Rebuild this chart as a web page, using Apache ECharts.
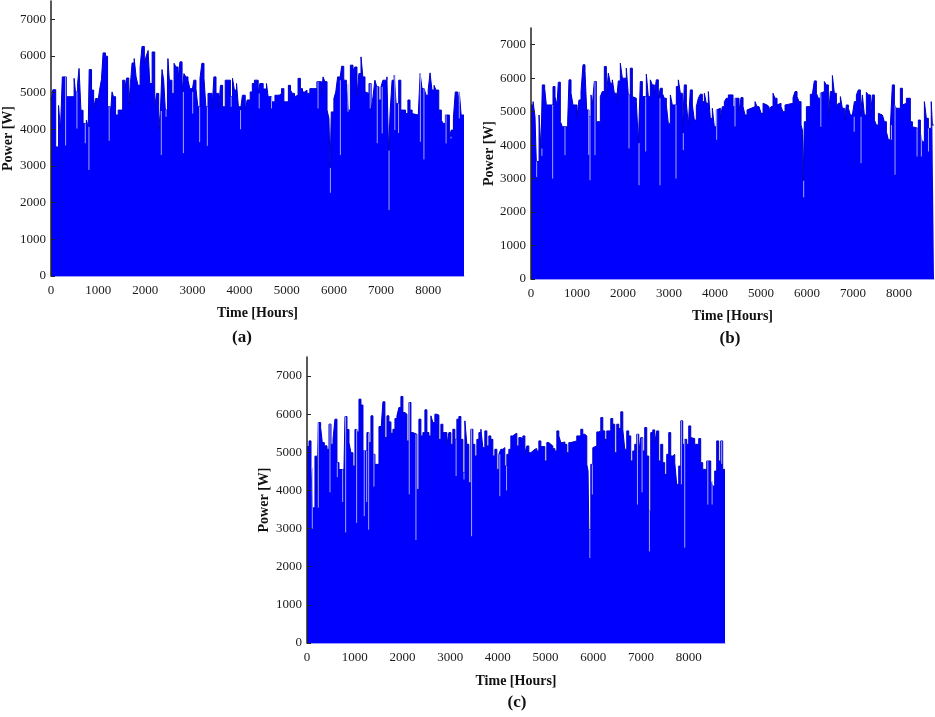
<!DOCTYPE html>
<html><head><meta charset="utf-8">
<script src="https://cdn.jsdelivr.net/npm/echarts@6/dist/echarts.min.js"></script>
<style>html,body{margin:0;padding:0;background:#fff}#c{width:935px;height:717px}</style>
</head><body><div id="c"></div>
<script>
// Tick labels
const yTicks = [0, 1000, 2000, 3000, 4000, 5000, 6000, 7000];
const xTicks = [0, 1000, 2000, 3000, 4000, 5000, 6000, 7000, 8000];
const hoursTotal = 8760;
const panelLabels = ['(a)', '(b)', '(c)'];

// Panel (a): [start hour, power W] step levels
const powerA = [[0,4800],[40,5080],[100,3520],[160,4650],[200,3980],[240,5430],[325,4890],[490,5390],[520,5020],[565,5250],[595,5660],[635,4520],[680,4160],[750,4250],[790,4070],[810,5630],[860,5070],[905,4570],[945,4840],[995,4750],[1030,5070],[1070,5360],[1105,6085],[1155,5995],[1200,4615],[1255,4300],[1295,5020],[1325,4890],[1370,4390],[1425,4525],[1520,5340],[1565,5110],[1605,5400],[1650,4660],[1685,5250],[1720,5810],[1765,5930],[1805,5430],[1845,5200],[1890,5700],[1930,6260],[1980,5800],[2020,6000],[2060,6150],[2095,5250],[2145,6110],[2200,4615],[2240,4980],[2285,4000],[2320,4500],[2355,5630],[2390,5340],[2425,4525],[2470,5340],[2480,5930],[2510,5340],[2565,4980],[2610,5800],[2650,5700],[2695,5340],[2735,5840],[2780,5020],[2820,5520],[2860,5430],[2905,5340],[2945,5110],[2990,5020],[3030,5340],[3075,5110],[3115,4615],[3160,5390],[3200,5800],[3245,5390],[3285,4615],[3330,4980],[3415,4525],[3455,5430],[3500,4980],[3555,4570],[3595,5200],[3640,4615],[3695,5340],[3805,4890],[3850,5390],[3890,5070],[3935,5250],[3975,4615],[4020,4525],[4060,4930],[4120,4525],[4160,4800],[4225,5020],[4270,5250],[4315,5340],[4395,4980],[4430,5250],[4500,5100],[4570,5250],[4605,4890],[4680,4750],[4750,4930],[4840,4980],[4890,5110],[4940,4750],[5035,5200],[5080,5070],[5120,4980],[5165,4890],[5205,4930],[5240,5390],[5290,5110],[5335,5020],[5380,5070],[5430,4980],[5490,5110],[5640,5300],[5740,4930],[5770,5430],[5810,5300],[5855,4525],[5895,4300],[5920,2950],[5945,4475],[6000,4840],[6040,5020],[6080,5430],[6125,5340],[6165,5720],[6210,5340],[6265,5250],[6305,4525],[6350,5750],[6405,5610],[6445,5700],[6490,4890],[6530,5520],[6575,5975],[6615,5430],[6660,5020],[6700,4980],[6745,5250],[6790,4525],[6830,4890],[6870,5340],[6910,5160],[6955,4800],[7000,5160],[7040,5340],[7125,5430],[7160,3420],[7195,4525],[7235,5340],[7280,5475],[7320,4700],[7375,5340],[7420,4525],[7520,4430],[7570,4800],[7615,4525],[7660,4430],[7700,4390],[7790,4430],[7830,5520],[7870,5110],[7915,5070],[7955,4930],[8000,5070],[8040,5540],[8080,5070],[8125,5200],[8165,5070],[8225,4525],[8280,4250],[8320,4160],[8365,4390],[8450,3800],[8490,3980],[8535,4300],[8575,5020],[8620,4660],[8660,5020],[8700,4390]];
// Panel (a): single-hour dips [hour, power W]
const dipsA = [[310,3560],[550,4020],[727,3620],[805,2890],[1234,3690],[2340,3300],[2440,4340],[2808,3350],[3005,4430],[3153,3650],[3316,3550],[3822,4615],[4021,4000],[4416,4570],[4677,4570],[5664,4570],[5926,2270],[6138,3300],[6299,4480],[6771,4570],[6920,3620],[7025,3890],[7170,1800],[7293,3980],[7372,3900],[7835,3660],[7910,3180],[8380,3616],[8485,3750],[8660,4300]];

// Panel (b)
const powerB = [[0,5200],[45,5300],[87,4850],[115,3510],[175,4900],[217,3900],[246,5800],[297,5700],[333,5200],[478,5750],[522,5450],[565,5200],[594,5880],[638,4700],[681,4550],[797,4700],[826,5950],[870,5550],[913,5200],[1000,4850],[1043,5350],[1087,5600],[1130,6400],[1174,6200],[1210,5050],[1260,4850],[1304,5500],[1333,5200],[1376,5900],[1420,4700],[1507,5450],[1550,5600],[1594,6350],[1638,5450],[1681,6150],[1724,5850],[1768,5950],[1811,5550],[1855,5250],[1898,5920],[1942,6450],[1985,6000],[2072,6300],[2115,5500],[2159,6300],[2203,5450],[2246,5400],[2290,5300],[2333,4060],[2376,5900],[2420,5450],[2507,6120],[2550,5450],[2594,5950],[2637,5800],[2681,5500],[2724,5950],[2768,5400],[2811,5700],[2855,5550],[2898,5400],[2942,5200],[2985,4650],[3029,5500],[3072,5200],[3159,5750],[3203,5950],[3246,5550],[3290,4360],[3333,5800],[3377,5250],[3420,4600],[3463,5650],[3507,5200],[3550,4750],[3594,5150],[3637,5400],[3680,5520],[3724,5300],[3768,5550],[3811,5250],[3855,5600],[3898,4800],[3942,5100],[3985,4550],[4029,5050],[4072,5100],[4116,4800],[4159,5150],[4203,5300],[4246,5400],[4290,5500],[4391,5150],[4435,5400],[4522,5000],[4565,5420],[4609,5150],[4652,4900],[4696,5050],[4739,5100],[4783,5050],[4826,5150],[4870,5300],[4913,5150],[4957,5100],[5000,4950],[5044,5250],[5087,5200],[5130,5150],[5174,5050],[5217,5150],[5261,5550],[5304,5400],[5348,5200],[5391,5250],[5435,5150],[5478,5000],[5522,5200],[5565,5250],[5696,5420],[5739,5600],[5783,5450],[5826,5300],[5870,4600],[5899,4450],[5915,2935],[5942,4700],[5986,5150],[6072,5520],[6116,5550],[6159,5920],[6203,5550],[6246,5400],[6290,5550],[6333,5600],[6377,5900],[6420,5800],[6464,4800],[6507,5600],[6551,6080],[6594,5550],[6638,5150],[6681,5250],[6725,5450],[6768,5100],[6812,4750],[6855,5200],[6899,5100],[6942,4900],[6986,4850],[7029,5300],[7073,5500],[7116,5650],[7160,4850],[7203,5500],[7246,4900],[7290,5580],[7333,5500],[7377,4850],[7420,5500],[7464,4750],[7507,4600],[7551,4950],[7594,4900],[7638,4850],[7681,4700],[7725,4400],[7768,4160],[7812,4600],[7855,5800],[7899,5200],[7942,5100],[8029,5700],[8073,5200],[8116,5250],[8160,5400],[8246,4700],[8290,4550],[8333,4500],[8420,4750],[8464,4300],[8507,4100],[8551,5300],[8594,4800],[8638,4500],[8700,5300],[8725,4600]];
const dipsB = [[123,3050],[237,3680],[471,3000],[739,3700],[1254,3710],[1283,2950],[1391,3700],[2130,3900],[2348,2800],[2493,3810],[2804,2800],[3152,3000],[3311,3850],[4036,4160],[4435,4560],[5927,2440],[6300,4550],[7025,4400],[7174,3460],[7835,4160],[7913,3115],[8392,3660],[8485,3660],[8640,3810]];

// Panel (c)
const powerC = [[0,5150],[42,5300],[84,4600],[112,3545],[167,4900],[209,3940],[237,5780],[286,5650],[321,5255],[363,5170],[419,5080],[461,5740],[503,5210],[545,5340],[586,5870],[628,4730],[670,4550],[768,4160],[796,5940],[838,5600],[880,5255],[921,4990],[963,4640],[1005,5600],[1047,5535],[1089,6395],[1131,6240],[1173,5036],[1256,5517],[1298,5255],[1340,5957],[1382,4948],[1424,4685],[1508,5676],[1550,5562],[1591,6325],[1633,5386],[1675,5957],[1717,5798],[1759,5500],[1801,5605],[1843,5886],[1885,5957],[1926,6176],[1968,6465],[2010,6044],[2052,6000],[2094,5300],[2136,6307],[2178,5517],[2220,5474],[2303,4027],[2345,5870],[2387,5430],[2429,5517],[2471,6114],[2513,5517],[2555,5430],[2597,5957],[2638,5780],[2680,6000],[2722,5975],[2764,5340],[2806,5737],[2848,5517],[2932,5210],[2973,5517],[3015,5210],[3057,5605],[3099,5340],[3141,5870],[3183,5940],[3225,5340],[3267,4466],[3309,5825],[3350,5210],[3392,4203],[3434,5605],[3476,5210],[3518,4904],[3560,5340],[3602,5517],[3644,5605],[3685,5123],[3727,5562],[3769,5167],[3811,5430],[3853,5340],[3895,4904],[3937,5080],[3979,4553],[4021,4948],[4062,5080],[4104,5123],[4146,4640],[4188,4948],[4230,5080],[4272,5430],[4314,5474],[4356,5500],[4398,5167],[4440,5386],[4482,5360],[4524,5430],[4566,4992],[4607,5167],[4649,4992],[4691,5036],[4733,5080],[4775,5097],[4817,5036],[4859,5300],[4901,5150],[4984,4773],[5026,5255],[5068,5210],[5110,5167],[5152,5097],[5194,5036],[5236,5562],[5278,5430],[5319,5255],[5361,5272],[5403,5210],[5445,4992],[5487,5255],[5529,5300],[5654,5430],[5738,5605],[5780,5474],[5822,5430],[5864,4685],[5890,4510],[5906,2975],[5948,4685],[5990,5123],[6031,5167],[6073,5535],[6115,5562],[6157,5912],[6199,5562],[6241,5340],[6283,5562],[6366,5886],[6408,5737],[6450,4992],[6492,5737],[6534,5623],[6576,6062],[6618,5605],[6659,5080],[6701,5562],[6743,5430],[6785,4773],[6827,5036],[6869,5210],[6911,5474],[6953,4992],[6994,5386],[7036,5036],[7078,5650],[7120,4904],[7162,3457],[7204,5517],[7246,5588],[7288,5255],[7329,5562],[7371,4773],[7413,5210],[7455,4730],[7497,4422],[7539,4948],[7581,5517],[7623,4904],[7665,4948],[7707,4730],[7748,4160],[7790,4640],[7832,5825],[7874,5210],[7916,5340],[7958,5210],[8000,5693],[8042,5386],[8083,5360],[8125,5210],[8209,5360],[8251,4730],[8293,4553],[8377,4773],[8461,4246],[8502,4115],[8544,4510],[8586,5300],[8628,4773],[8670,5300],[8712,4553]];
const dipsC = [[111,3000],[237,3550],[482,3950],[635,4350],[747,3700],[810,2900],[1040,3150],[1200,3325],[1250,3700],[1292,2970],[1403,4100],[2143,3900],[2283,2700],[3125,4380],[3290,4290],[3449,2800],[4041,3850],[4182,4000],[5927,2230],[5980,3895],[6925,3630],[7022,3950],[7176,2400],[7846,4160],[7916,2500],[8400,3630],[8490,3630],[8690,4700]];

const panels = [
  {levels: powerA, dips: dipsA, grid: {left: 50, top: 1, width: 414, height: 275}, nameGapY: 36, nameGapX: 30, lab: [242, 338]},
  {levels: powerB, dips: dipsB, grid: {left: 531, top: 28, width: 403, height: 251}, nameGapY: 35, nameGapX: 30, lab: [730, 339]},
  {levels: powerC, dips: dipsC, grid: {left: 307, top: 357, width: 418, height: 286}, nameGapY: 36, nameGapX: 31, lab: [517, 703]}
];

function levelAt(levels, h) {
  let v = levels[0][1];
  for (const p of levels) { if (p[0] <= h) v = p[1]; else break; }
  return v;
}

const FONT = '"Liberation Serif", "Times New Roman", serif';
const plain = v => String(v);
const option = {
  backgroundColor: '#ffffff',
  animation: false,
  grid: [], xAxis: [], yAxis: [], series: [], graphic: []
};

panels.forEach((p, i) => {
  option.grid.push(Object.assign({containLabel: false}, p.grid));
  option.xAxis.push({
    type: 'value', gridIndex: i, min: 0, max: hoursTotal,
    name: 'Time [Hours]', nameLocation: 'middle', nameGap: p.nameGapX,
    nameTextStyle: {fontFamily: FONT, fontWeight: 'bold', fontSize: 14, color: '#111'},
    axisLine: {show: true, lineStyle: {color: '#9b9bff', width: 1}},
    axisTick: {show: false},
    splitLine: {show: false},
    axisLabel: {customValues: xTicks, formatter: plain, fontFamily: FONT, fontSize: 13, color: '#1a1a1a', margin: 8}
  });
  option.yAxis.push({
    type: 'value', gridIndex: i, min: 0, max: 7500, z: 5,
    name: 'Power [W]', nameLocation: 'middle', nameGap: p.nameGapY,
    nameTextStyle: {fontFamily: FONT, fontWeight: 'bold', fontSize: 14, color: '#111'},
    axisLine: {show: true, lineStyle: {color: '#222', width: 1.5}},
    axisTick: {show: true, inside: true, length: 4, customValues: yTicks, lineStyle: {color: '#222'}},
    splitLine: {show: false},
    axisLabel: {customValues: yTicks, formatter: plain, fontFamily: FONT, fontSize: 13, color: '#1a1a1a', margin: 5}
  });
  const last = p.levels[p.levels.length - 1][1];
  option.series.push({
    type: 'line', xAxisIndex: i, yAxisIndex: i, step: 'end',
    data: p.levels.concat([[hoursTotal, last]]),
    showSymbol: false, symbol: 'none', z: 2,
    lineStyle: {color: '#0000c8', width: 1},
    areaStyle: {color: '#0000ff', opacity: 1}
  });
  option.series.push({
    type: 'custom', xAxisIndex: i, yAxisIndex: i, z: 3,
    data: p.dips.map(d => [d[0], d[1], levelAt(p.levels, d[0])]),
    encode: {x: 0, y: [1, 2]},
    renderItem: (params, api) => {
      const a = api.coord([api.value(0), api.value(1)]);
      const b = api.coord([api.value(0), api.value(2)]);
      return {type: 'line', shape: {x1: a[0], y1: a[1], x2: b[0], y2: b[1]},
              style: {stroke: '#a4a4ff', lineWidth: 1}};
    }
  });
  option.graphic.push({
    type: 'text', x: p.lab[0], y: p.lab[1],
    style: {text: panelLabels[i], font: 'bold 17px ' + FONT, fill: '#111',
            align: 'center', verticalAlign: 'middle', textAlign: 'center', textVerticalAlign: 'middle'}
  });
});

const chart = echarts.init(document.getElementById('c'), null, {renderer: 'canvas'});
chart.setOption(option);
</script>
</body></html>
